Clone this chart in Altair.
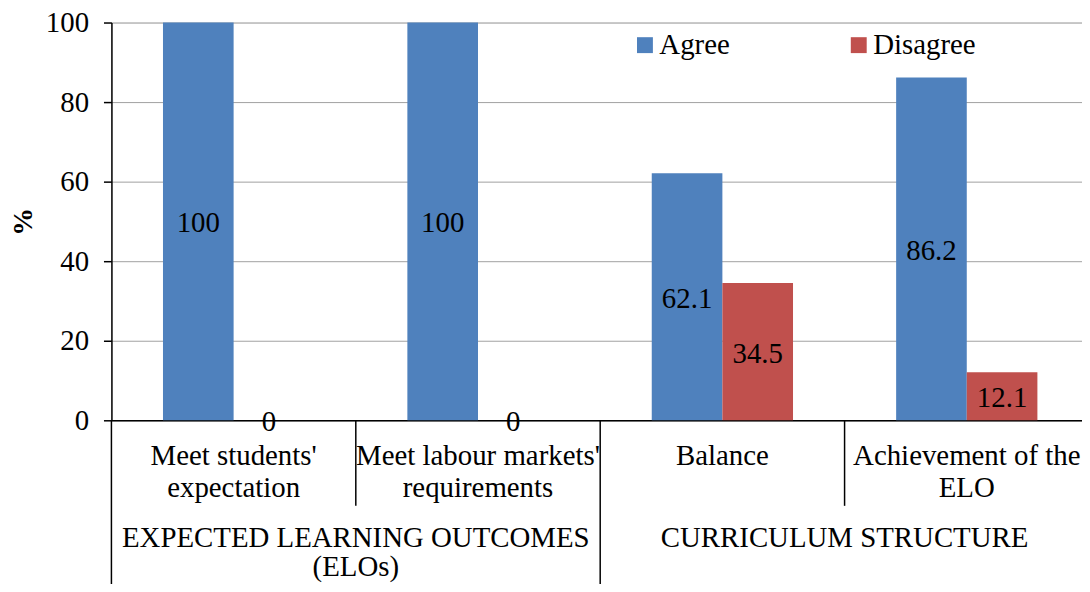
import altair as alt
import pandas as pd

# ---- data ----
categories = ["Meet students' expectation", "Meet labour markets' requirements",
              "Balance", "Achievement of the ELO"]
category_labels = ["Meet students'\nexpectation", "Meet labour markets'\nrequirements",
                   "Balance", "Achievement of the\nELO"]
group_names = ["EXPECTED LEARNING OUTCOMES\n(ELOs)", "CURRICULUM STRUCTURE"]
group_members = [[0, 1], [2, 3]]
series = ["Agree", "Disagree"]
agree = [100, 100, 62.1, 86.2]
disagree = [0, 0, 34.5, 12.1]
colors = ["#4F81BD", "#C0504D"]

FONT = "Tinos, FreeSerif, serif"
FS = 29
W, H = 976, 400

rows = []
for i, c in enumerate(categories):
    for s, vals in zip(series, [agree, disagree]):
        v = vals[i]
        rows.append({"category": c, "series": s, "value": v,
                     "half": v / 2, "label": f"{v:g}"})
bars_df = pd.DataFrame(rows)

cat_df = pd.DataFrame({"category": categories, "text": category_labels})
grp_df = pd.DataFrame({"category": [categories[m[1]] for m in group_members],
                       "text": group_names})
short_sep = pd.DataFrame({"category": [categories[m[1]] for m in group_members]})
long_sep = pd.DataFrame({"category": [categories[m[0]] for m in group_members]})

xscale = alt.Scale(domain=categories, range=[0, 983], paddingInner=0, paddingOuter=0)
xoff_scale = alt.Scale(domain=series, paddingInner=0, paddingOuter=0.73)
yscale = alt.Scale(domain=[0, 100], nice=False)

bars = alt.Chart(bars_df).mark_bar().encode(
    x=alt.X("category:N", scale=xscale, sort=categories,
            axis=alt.Axis(labels=False, ticks=False, title=None, domain=True,
                          domainColor="black", domainWidth=1.5, grid=False)),
    xOffset=alt.XOffset("series:N", scale=xoff_scale, sort=series),
    y=alt.Y("value:Q", scale=yscale,
            axis=alt.Axis(values=[0, 20, 40, 60, 80, 100], grid=True,
                          gridColor="#A0A0A0", gridWidth=1,
                          domainColor="black", domainWidth=1.5,
                          tickColor="black", tickSize=8, tickWidth=1.5,
                          labelFont=FONT, labelFontSize=FS, labelColor="black",
                          labelPadding=15, title="%", titleFont=FONT,
                          titleFontSize=28, titleFontWeight="bold",
                          titleColor="black", titleX=-88, titleY=200,
                          titleAngle=-90, titleAlign="center",
                          titleBaseline="middle")),
    color=alt.Color("series:N", scale=alt.Scale(domain=series, range=colors),
                    legend=alt.Legend(orient="none", legendX=522, legendY=8,
                                      direction="horizontal", title=None,
                                      symbolType="square", symbolSize=256,
                                      symbolStrokeWidth=0, labelFont=FONT,
                                      labelFontSize=FS, labelColor="black",
                                      labelOffset=0, columnPadding=115,
                                      columns=2)),
)

labels = alt.Chart(bars_df).mark_text(font=FONT, fontSize=FS, color="black",
                                      baseline="middle", align="center", dy=2).encode(
    x=alt.X("category:N", scale=xscale, sort=categories),
    xOffset=alt.XOffset("series:N", scale=xoff_scale, sort=series),
    y=alt.Y("half:Q", scale=yscale),
    text="label:N",
)

cat_text = alt.Chart(cat_df).mark_text(font=FONT, fontSize=FS, color="black",
                                       baseline="alphabetic", align="center",
                                       lineBreak="\n", lineHeight=32).encode(
    x=alt.X("category:N", scale=xscale, sort=categories),
    y=alt.value(H + 45),
    text="text:N",
)

grp_text = alt.Chart(grp_df).mark_text(font=FONT, fontSize=FS, color="black",
                                       baseline="alphabetic", align="center",
                                       lineBreak="\n", lineHeight=30).encode(
    x=alt.X("category:N", scale=xscale, sort=categories, bandPosition=0),
    y=alt.value(H + 127),
    text="text:N",
)

short_rules = alt.Chart(short_sep).mark_rule(color="black", strokeWidth=1.5).encode(
    x=alt.X("category:N", scale=xscale, sort=categories, bandPosition=0),
    y=alt.value(H), y2=alt.value(H + 86),
)
long_rules = alt.Chart(long_sep).mark_rule(color="black", strokeWidth=1.5).encode(
    x=alt.X("category:N", scale=xscale, sort=categories, bandPosition=0),
    y=alt.value(H), y2=alt.value(H + 175),
)

chart = alt.layer(bars, labels, cat_text, grp_text, short_rules, long_rules).properties(
    width=W, height=H,
    autosize=alt.AutoSizeParams(type="none"),
    padding={"left": 104, "top": 13, "right": 0, "bottom": 163},
).configure_view(stroke=None).configure(background="white")

chart.save("out.html", embed_options={"renderer": "svg", "actions": False})
